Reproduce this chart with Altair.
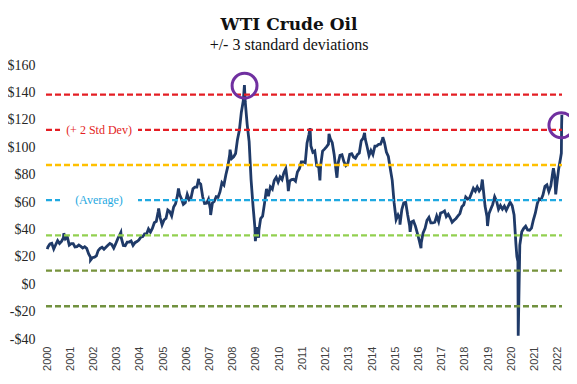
import altair as alt
import pandas as pd

# Monthly WTI values (USD/bbl)
years = list(range(2000, 2022))
wti_monthly = {
    2000: [27.2, 29.4, 29.9, 25.7, 28.8, 31.8, 29.7, 31.3, 33.9, 33.1, 34.4, 28.5],
    2001: [29.6, 29.6, 27.2, 27.4, 28.6, 27.6, 26.4, 27.4, 26.2, 22.2, 19.6, 19.3],
    2002: [19.7, 20.7, 24.5, 26.2, 27.0, 25.5, 26.9, 28.4, 29.7, 28.9, 26.3, 29.4],
    2003: [32.9, 35.9, 33.6, 28.3, 28.1, 30.7, 30.8, 31.6, 28.3, 30.3, 31.1, 32.2],
    2004: [34.3, 34.7, 36.7, 36.7, 40.3, 38.0, 40.7, 44.9, 45.9, 53.1, 48.5, 43.3],
    2005: [46.8, 48.1, 54.2, 53.0, 49.8, 56.3, 58.7, 65.0, 65.6, 62.4, 58.3, 59.4],
    2006: [65.5, 61.6, 62.9, 69.7, 70.9, 70.9, 74.4, 73.0, 63.8, 58.9, 59.1, 62.0],
    2007: [54.5, 59.3, 60.4, 63.9, 63.5, 67.5, 74.1, 72.4, 79.9, 85.8, 94.8, 91.7],
    2008: [93.0, 95.4, 105.5, 112.6, 125.4, 133.9, 133.4, 116.7, 104.1, 76.6, 57.3, 41.1],
    2009: [41.7, 39.1, 47.9, 49.6, 59.0, 69.6, 64.2, 71.1, 69.4, 75.7, 78.0, 74.5],
    2010: [78.3, 76.4, 81.2, 84.3, 73.7, 75.3, 76.3, 76.6, 75.2, 81.9, 84.3, 89.2],
    2011: [89.2, 88.6, 102.9, 109.5, 100.9, 96.3, 97.3, 86.3, 85.5, 86.3, 97.2, 98.6],
    2012: [100.3, 102.2, 106.2, 103.3, 94.7, 82.3, 87.9, 94.1, 94.5, 89.5, 86.5, 87.9],
    2013: [94.8, 95.3, 92.9, 92.0, 94.5, 95.8, 104.6, 106.6, 106.3, 100.5, 93.9, 97.6],
    2014: [94.6, 100.8, 100.8, 102.1, 102.2, 105.8, 103.6, 96.5, 93.2, 84.4, 75.8, 59.3],
    2015: [47.2, 50.6, 47.8, 54.5, 59.3, 59.8, 50.9, 42.9, 45.5, 46.2, 42.4, 37.2],
    2016: [31.7, 30.3, 37.5, 40.8, 46.7, 48.8, 44.7, 44.7, 45.2, 49.8, 45.7, 52.0],
    2017: [52.5, 53.5, 49.3, 51.1, 48.5, 45.2, 46.6, 48.0, 49.8, 51.6, 56.6, 57.9],
    2018: [63.7, 62.2, 62.7, 66.3, 70.0, 67.9, 71.0, 68.1, 70.2, 70.8, 57.0, 49.5],
    2019: [51.4, 55.0, 58.2, 63.9, 60.8, 54.7, 57.4, 54.8, 57.0, 54.0, 57.0, 59.9],
    2020: [57.5, 50.5, 29.2, 16.6, 28.6, 38.3, 40.7, 42.3, 39.6, 39.4, 40.9, 47.0],
    2021: [52.0, 59.0, 62.3, 61.7, 65.2, 71.4, 72.5, 67.7, 71.7, 81.5, 79.2, 71.7],
}

# Intra-month extremes visible on the chart
extreme_dates = [
    "2000/01/04", "2000/09/20", "2001/11/15", "2003/03/07", "2004/10/22",
    "2005/08/30", "2006/07/14", "2007/01/18", "2007/11/20", "2008/07/03",
    "2008/12/22", "2009/02/12", "2010/05/25", "2011/05/02", "2011/10/04",
    "2012/02/24", "2012/06/28", "2013/09/06", "2014/06/20", "2015/03/17",
    "2015/08/24", "2016/02/11", "2018/10/03", "2018/12/24", "2020/03/30",
    "2020/04/20", "2021/10/26", "2021/12/01", "2022/01/15", "2022/02/15",
    "2022/02/28", "2022/03/04", "2022/03/08",
]
extreme_values = [
    25.6, 37.2, 17.5, 37.8, 55.2,
    69.8, 77.0, 50.5, 98.2, 145.3,
    31.4, 33.9, 68.0, 113.9, 75.7,
    109.8, 77.7, 110.5, 107.3, 43.5,
    38.2, 26.2, 76.4, 42.5, 20.1,
    -37.6, 84.6, 65.6, 83.8, 92.0,
    95.7, 115.7, 123.7,
]

# +/- 3 standard deviation bands
band_names = ["+3", "+2", "+1", "avg", "-1", "-2", "-3"]
band_levels = [138.4, 112.7, 87.0, 61.3, 35.6, 9.9, -16.1]
band_colors = ["#E41E24", "#E41E24", "#FFC000", "#1FA9E1", "#92D050", "#77933C", "#71913F"]

# Circled highlights
circle_dates = ["2008/07/05", "2022/03/01"]
circle_values = [144.9, 116.0]

y_ticks = [-40, -20, 0, 20, 40, 60, 80, 100, 120, 140, 160]
x_years = list(range(2000, 2023))

rows = []
for y in years:
    for m, v in enumerate(wti_monthly[y]):
        rows.append({"date": f"{y}/{m + 1:02d}/15", "price": v})
for d, v in zip(extreme_dates, extreme_values):
    rows.append({"date": d, "price": v})
price_df = pd.DataFrame(rows)
price_df["ts"] = pd.to_datetime(price_df["date"], format="%Y/%m/%d")
price_df = price_df.sort_values("ts").drop(columns="ts").reset_index(drop=True)

bands_df = pd.DataFrame({"name": band_names, "level": band_levels})
circles_df = pd.DataFrame({"date": circle_dates, "price": circle_values})

W, H = 516, 274
x_scale = alt.Scale(domain=[alt.DateTime(year=1999, month=12, date=15),
                            alt.DateTime(year=2022, month=3, date=10)])
y_scale = alt.Scale(domain=[-40, 160], nice=False, zero=False)

x_axis = alt.Axis(
    values=[alt.DateTime(year=y, month=1, date=1) for y in x_years],
    format="%Y", labelAngle=-90, labelFont="Liberation Sans", labelFontSize=11,
    labelColor="#404040", labelPadding=7, ticks=False, domain=False, grid=False,
    title=None, labelOverlap=False, labelBound=False, labelFlush=False,
)
y_axis = alt.Axis(
    values=y_ticks, ticks=False, domain=False, grid=False, title=None,
    labelExpr="datum.value < 0 ? '-$' + abs(datum.value) : '$' + datum.value",
    labelFont="Liberation Serif", labelFontSize=14, labelColor="#262626",
    labelPadding=11, labelOverlap=False, labelBound=False, labelFlush=False,
)

line = alt.Chart(price_df).mark_line(color="#1F3A68", strokeWidth=2.8, clip=False).encode(
    x=alt.X("date:T", scale=x_scale, axis=x_axis),
    y=alt.Y("price:Q", scale=y_scale, axis=y_axis),
)

bands = alt.Chart(bands_df).mark_rule(strokeDash=[6, 3], strokeWidth=2.3).encode(
    x=alt.value(0), x2=alt.value(W),
    y=alt.Y("level:Q", scale=y_scale, axis=y_axis),
    color=alt.Color("name:N", scale=alt.Scale(domain=band_names, range=band_colors), legend=None),
)

mask_df = bands_df[bands_df["name"].isin(["+2", "avg"])]
mask = alt.Chart(mask_df).mark_rule(color="white", strokeWidth=6).encode(
    x=alt.value(14), x2=alt.value(92),
    y=alt.Y("level:Q", scale=y_scale, axis=y_axis),
)

label_text = pd.DataFrame({
    "level": [band_levels[1], band_levels[3]],
    "text": ["(+ 2 Std Dev)", "(Average)"],
    "name": ["+2", "avg"],
})
labels = alt.Chart(label_text).mark_text(
    font="Liberation Serif", fontSize=12, align="center", baseline="middle"
).encode(
    x=alt.value(53), y=alt.Y("level:Q", scale=y_scale, axis=y_axis), text="text:N",
    color=alt.Color("name:N", scale=alt.Scale(domain=band_names, range=band_colors), legend=None),
)

circles = alt.Chart(circles_df).mark_point(
    shape="circle", filled=False, color="#7030A0", strokeWidth=3, size=620, opacity=1
).encode(
    x=alt.X("date:T", scale=x_scale, axis=x_axis),
    y=alt.Y("price:Q", scale=y_scale, axis=y_axis),
)

chart = alt.layer(line, bands, mask, labels, circles).properties(
    width=W, height=H,
    background="white",
    title=alt.TitleParams(
        text="WTI Crude Oil", subtitle="+/- 3 standard deviations",
        font="DejaVu Serif", fontSize=17, fontWeight="bold", color="#111111",
        subtitleFont="Liberation Serif", subtitleFontSize=16, subtitleColor="#111111",
        anchor="middle", dx=-15, offset=4, subtitlePadding=3,
    ),
    padding={"left": 38, "top": 57, "right": 7, "bottom": 34},
    autosize=alt.AutoSizeParams(type="none"),
).configure_view(stroke=None).configure_axis(labelOverlap=False)

chart.save("out.html", embed_options={"renderer": "svg", "actions": False})
